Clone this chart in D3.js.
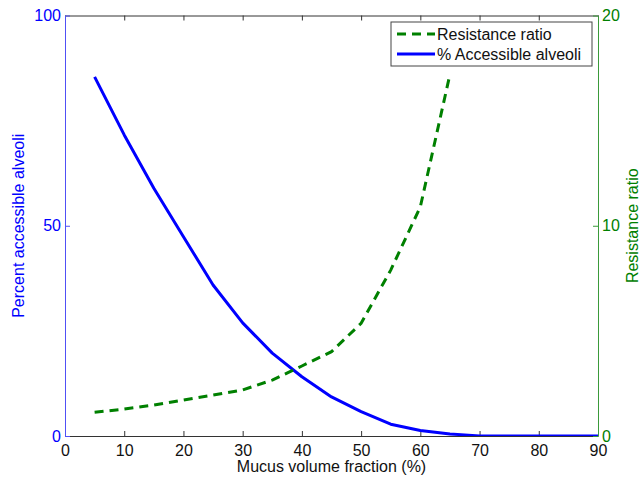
<!DOCTYPE html>
<html>
<head>
<meta charset="utf-8">
<script src="https://cdn.jsdelivr.net/npm/d3@7"></script>
<style>
  body { margin: 0; background: #fff; }
  svg { display: block; font-family: 'Liberation Sans', Arial, sans-serif; }
</style>
</head>
<body>
<svg id="chart"></svg>
<script>
// Data
const mucusFraction = [5, 10, 15, 20, 25, 30, 35, 40, 45, 50, 55, 60, 65, 70, 75, 80, 85, 90]
const accessible = [85.4, 71.6, 58.9, 47.4, 35.9, 26.9, 19.7, 14.1, 9.3, 5.8, 2.8, 1.3, 0.5, 0, 0, 0, 0, 0]
const resistX = [5, 10, 15, 20, 25, 30, 35, 40, 45, 50, 55, 60, 65]
const resistance = [1.13, 1.28, 1.47, 1.71, 1.95, 2.19, 2.66, 3.33, 4.01, 5.36, 7.89, 10.9, 17.2]
const xTicks = [0, 10, 20, 30, 40, 50, 60, 70, 80, 90]
const leftTicks = [0, 50, 100]
const rightTicks = [0, 10, 20]

const width = 640
const height = 478
const margin = { top: 15.5, right: 42, bottom: 42, left: 65 }
const blue = '#0000ff'
const green = '#008000'
const fs = '16px'

const svg = d3.select('#chart').attr('width', width).attr('height', height)

const x = d3.scaleLinear().domain([0, 90]).range([margin.left, width - margin.right])
const yL = d3.scaleLinear().domain([0, 100]).range([height - margin.bottom, margin.top])
const yR = d3.scaleLinear().domain([0, 20]).range([height - margin.bottom, margin.top])

// clip for plot area
svg.append('defs').append('clipPath').attr('id', 'plot-clip')
  .append('rect')
  .attr('x', margin.left).attr('y', margin.top)
  .attr('width', width - margin.left - margin.right)
  .attr('height', height - margin.top - margin.bottom)

// Bottom axis
const xb = svg.append('g')
  .attr('transform', `translate(0, ${height - margin.bottom})`)
  .call(d3.axisBottom(x).tickValues(xTicks).tickSizeInner(-5).tickSizeOuter(0).tickPadding(9))
xb.select('.domain').attr('stroke', '#333')
xb.selectAll('.tick line').attr('stroke', '#333')
xb.selectAll('text').style('font-size', fs).attr('fill', '#111')

// Top axis (ticks only)
const xt = svg.append('g')
  .attr('transform', `translate(0, ${margin.top})`)
  .call(d3.axisTop(x).tickValues(xTicks).tickSizeInner(-5).tickSizeOuter(0).tickFormat(''))
xt.select('.domain').attr('stroke', '#333')
xt.selectAll('.tick line').attr('stroke', '#333')

// Left axis
const yl = svg.append('g')
  .attr('transform', `translate(${margin.left}, 0)`)
  .call(d3.axisLeft(yL).tickValues(leftTicks).tickSizeInner(-5).tickSizeOuter(0).tickPadding(4))
yl.select('.domain').attr('stroke', '#5050f5')
yl.selectAll('.tick line').attr('stroke', '#5050f5')
yl.selectAll('text').style('font-size', fs).attr('fill', blue).attr('x', -4)

// Right axis
const yr = svg.append('g')
  .attr('transform', `translate(${width - margin.right}, 0)`)
  .call(d3.axisRight(yR).tickValues(rightTicks).tickSizeInner(-5).tickSizeOuter(0).tickPadding(4))
yr.select('.domain').attr('stroke', '#3a9a3a')
yr.selectAll('.tick line').attr('stroke', '#3a9a3a')
yr.selectAll('text').style('font-size', fs).attr('fill', green).attr('x', 4)

// Axis labels
svg.append('text')
  .attr('x', (margin.left + width - margin.right) / 2)
  .attr('y', 472)
  .attr('text-anchor', 'middle')
  .style('font-size', fs)
  .attr('fill', '#111')
  .text('Mucus volume fraction (%)')

svg.append('text')
  .attr('transform', `translate(24, ${(margin.top + height - margin.bottom) / 2}) rotate(-90)`)
  .attr('text-anchor', 'middle')
  .style('font-size', fs)
  .attr('fill', blue)
  .text('Percent accessible alveoli')

svg.append('text')
  .attr('transform', `translate(638, ${(margin.top + height - margin.bottom) / 2}) rotate(-90)`)
  .attr('text-anchor', 'middle')
  .style('font-size', fs)
  .attr('fill', green)
  .text('Resistance ratio')

// Lines
const plot = svg.append('g').attr('clip-path', 'url(#plot-clip)')

const accLine = d3.line()
  .x((d, i) => x(mucusFraction[i]))
  .y(d => yL(d))

const resLine = d3.line()
  .x((d, i) => x(resistX[i]))
  .y(d => yR(d))

plot.append('path')
  .datum(accessible)
  .attr('fill', 'none')
  .attr('stroke', blue)
  .attr('stroke-width', 3)
  .attr('stroke-linejoin', 'round')
  .attr('d', accLine)

plot.append('path')
  .datum(resistance)
  .attr('fill', 'none')
  .attr('stroke', green)
  .attr('stroke-width', 3)
  .attr('stroke-dasharray', '9 6')
  .attr('d', resLine)

// Legend
const lg = svg.append('g').attr('transform', 'translate(391, 22)')
lg.append('rect')
  .attr('width', 201).attr('height', 44)
  .attr('fill', '#fff').attr('stroke', '#444').attr('stroke-width', 1)

lg.append('line')
  .attr('x1', 6).attr('x2', 44).attr('y1', 12).attr('y2', 12)
  .attr('stroke', green).attr('stroke-width', 3).attr('stroke-dasharray', '9 6')
lg.append('text')
  .attr('x', 46).attr('y', 18)
  .style('font-size', fs).attr('fill', '#111')
  .text('Resistance ratio')

lg.append('line')
  .attr('x1', 6).attr('x2', 44).attr('y1', 32).attr('y2', 32)
  .attr('stroke', blue).attr('stroke-width', 3)
lg.append('text')
  .attr('x', 46).attr('y', 38)
  .style('font-size', fs).attr('fill', '#111')
  .text('% Accessible alveoli')
</script>
</body>
</html>
